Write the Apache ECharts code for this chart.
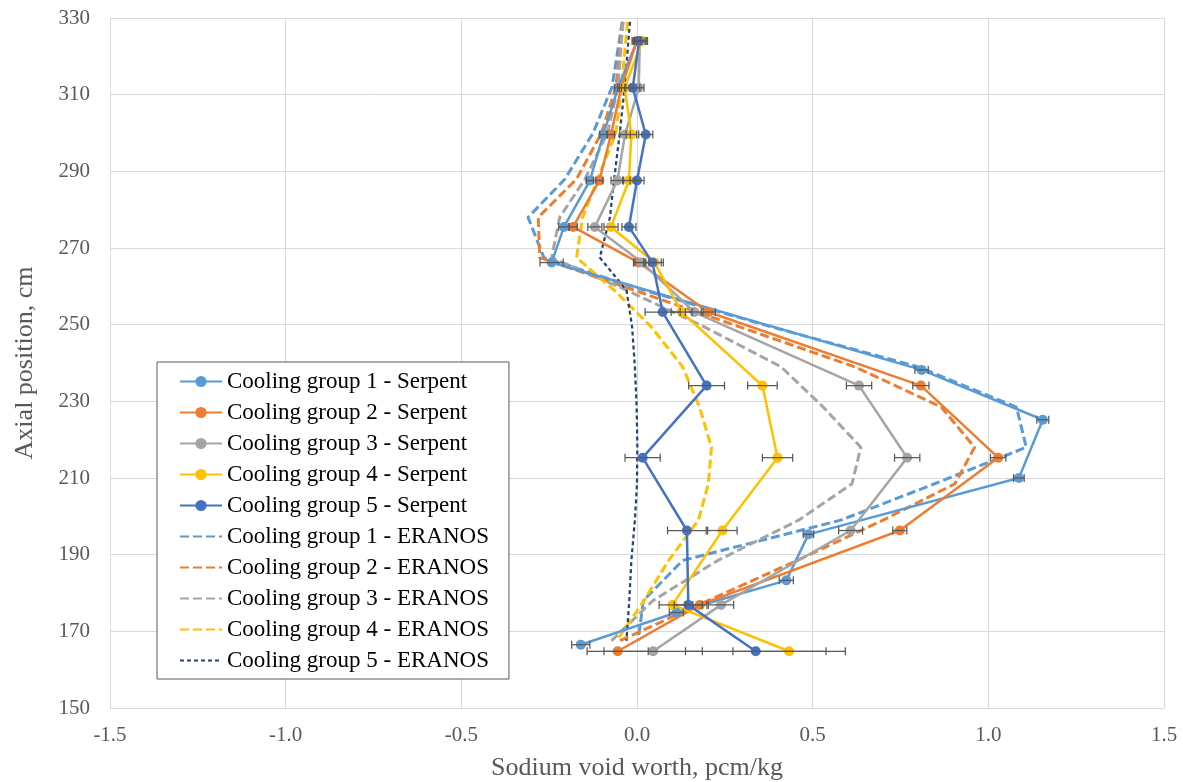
<!DOCTYPE html>
<html>
<head>
<meta charset="utf-8">
<script src="https://cdn.jsdelivr.net/npm/echarts@6/dist/echarts.min.js"></script>
<style>
html,body{margin:0;padding:0;background:#fff;}
#chart{width:1183px;height:782px;}
</style>
</head>
<body>
<div id="chart"></div>
<script>
// ---- Data ----
const seriesNames = [
  'Cooling group 1 - Serpent','Cooling group 2 - Serpent','Cooling group 3 - Serpent',
  'Cooling group 4 - Serpent','Cooling group 5 - Serpent',
  'Cooling group 1 - ERANOS','Cooling group 2 - ERANOS','Cooling group 3 - ERANOS',
  'Cooling group 4 - ERANOS','Cooling group 5 - ERANOS'
];
const xTicks = [-1.5, -1.0, -0.5, 0.0, 0.5, 1.0, 1.5];
const yTicks = [150, 170, 190, 210, 230, 250, 270, 290, 310, 330];

// Serpent, cooling group 1 (own axial positions)
const s1Y   = [324, 311.8, 299.6, 287.6, 275.5, 266.2, 238.2, 225.2, 210.0, 195.3, 183.3, 174.9, 166.5];
const s1X   = [0.0, -0.054, -0.096, -0.134, -0.208, -0.243, 0.81, 1.155, 1.087, 0.488, 0.425, 0.112, -0.16];
const s1Err = [0.01, 0.01, 0.01, 0.01, 0.015, 0.033, 0.019, 0.017, 0.015, 0.015, 0.02, 0.02, 0.026];

// Serpent, cooling groups 2-5 (shared axial positions)
const sY    = [324, 311.8, 299.6, 287.6, 275.5, 266.2, 253.3, 234.1, 215.3, 196.3, 176.9, 164.8];
const s2X   = [0.0, -0.045, -0.074, -0.107, -0.182, 0.005, 0.203, 0.808, 1.028, 0.748, 0.179, -0.055];
const s2Err = [0.01, 0.01, 0.01, 0.01, 0.012, 0.015, 0.02, 0.023, 0.022, 0.02, 0.02, 0.087];
const s3X   = [0.008, 0.005, -0.034, -0.056, -0.12, 0.014, 0.163, 0.632, 0.769, 0.608, 0.239, 0.046];
const s3Err = [0.015, 0.015, 0.015, 0.018, 0.02, 0.02, 0.025, 0.036, 0.036, 0.034, 0.036, 0.14];
const s4X   = [0.015, -0.035, -0.016, -0.023, -0.074, 0.05, 0.127, 0.357, 0.400, 0.243, 0.101, 0.433];
const s4Err = [0.015, 0.015, 0.015, 0.018, 0.02, 0.025, 0.03, 0.042, 0.043, 0.042, 0.038, 0.16];
const s5X   = [0.006, -0.012, 0.025, 0.0, -0.023, 0.044, 0.073, 0.198, 0.016, 0.142, 0.146, 0.338];
const s5Err = [0.02, 0.02, 0.02, 0.02, 0.02, 0.025, 0.05, 0.051, 0.05, 0.055, 0.04, 0.20];

// ERANOS (shared axial positions)
const eY  = [329, 312, 300, 288, 278, 267.5, 259, 249.5, 239, 228.5, 218, 208.5, 199, 188.5, 178, 167.5];
const e1X = [-0.042, -0.071, -0.125, -0.205, -0.31, -0.265, 0.02, 0.38, 0.80, 1.08, 1.108, 0.847, 0.58, 0.13, 0.018, 0.003];
const e2X = [-0.04, -0.06, -0.101, -0.172, -0.281, -0.277, -0.008, 0.29, 0.62, 0.866, 0.961, 0.905, 0.70, 0.456, 0.202, -0.05];
const e3X = [-0.04, -0.054, -0.084, -0.148, -0.22, -0.243, -0.03, 0.19, 0.41, 0.53, 0.637, 0.612, 0.46, 0.23, 0.045, -0.073];
const e4X = [-0.027, -0.044, -0.06, -0.112, -0.155, -0.172, -0.065, 0.04, 0.13, 0.178, 0.212, 0.203, 0.175, 0.09, 0.02, -0.058];
const e5X = [-0.02, -0.035, -0.049, -0.065, -0.077, -0.106, -0.03, -0.014, -0.006, -0.001, 0.001, 0.0, -0.006, -0.016, -0.022, -0.03];

// ---- Styling ----
const colors = ['#5B9BD5', '#ED7D31', '#A5A5A5', '#FFC000', '#4472C4'];
const eranosColors = ['#5B9BD5', '#ED7D31', '#A5A5A5', '#FFC000', '#264478'];
const FONT = "'Liberation Serif', 'Times New Roman', serif";

function pairs(xs, ys) { return xs.map((x, i) => [x, ys[i]]); }
function triples(xs, ys, es) { return xs.map((x, i) => [x, ys[i], es[i]]); }

const serpent = [
  { x: s1X, y: s1Y, e: s1Err },
  { x: s2X, y: sY, e: s2Err },
  { x: s3X, y: sY, e: s3Err },
  { x: s4X, y: sY, e: s4Err },
  { x: s5X, y: sY, e: s5Err }
];
const eranos = [e1X, e2X, e3X, e4X, e5X];

function errorRender(params, api) {
  const x = api.value(0), y = api.value(1), e = api.value(2);
  const lo = api.coord([x - e, y]);
  const hi = api.coord([x + e, y]);
  const h = 4;
  const st = { stroke: '#595959', lineWidth: 1.25, fill: null };
  return {
    type: 'group',
    children: [
      { type: 'line', shape: { x1: lo[0], y1: lo[1], x2: hi[0], y2: hi[1] }, style: st },
      { type: 'line', shape: { x1: lo[0], y1: lo[1] - h, x2: lo[0], y2: lo[1] + h }, style: st },
      { type: 'line', shape: { x1: hi[0], y1: hi[1] - h, x2: hi[0], y2: hi[1] + h }, style: st }
    ]
  };
}

const series = [];
serpent.forEach((s, i) => {
  series.push({
    name: seriesNames[i],
    type: 'line',
    data: pairs(s.x, s.y),
    symbol: 'circle',
    symbolSize: 10,
    showSymbol: true,
    lineStyle: { color: colors[i], width: 2.5 },
    itemStyle: { color: colors[i] },
    emphasis: { disabled: true },
    z: 3
  });
});
serpent.forEach((s, i) => {
  series.push({
    name: 'err' + (i + 1),
    type: 'custom',
    renderItem: errorRender,
    data: triples(s.x, s.y, s.e),
    encode: { x: 0, y: 1 },
    z: 4,
    silent: true
  });
});
eranos.forEach((xs, i) => {
  series.push({
    name: seriesNames[5 + i],
    type: 'line',
    data: pairs(xs, eY),
    symbol: 'none',
    showSymbol: false,
    lineStyle: i === 4
      ? { color: eranosColors[i], width: 2.25, type: [4, 3] }
      : { color: eranosColors[i], width: 3, type: [9, 4] },
    itemStyle: { color: eranosColors[i] },
    emphasis: { disabled: true },
    z: 2
  });
});

const legendData = seriesNames.map((n, i) =>
  i < 5 ? { name: n } : { name: n, itemStyle: { opacity: 0 } }
);

const chart = echarts.init(document.getElementById('chart'), null, { renderer: 'canvas' });
chart.setOption({
  animation: false,
  backgroundColor: '#fff',
  grid: { left: 110, right: 19, top: 18, bottom: 74, containLabel: false, outerBoundsMode: 'none' },
  xAxis: {
    type: 'value',
    min: xTicks[0], max: xTicks[xTicks.length - 1], interval: 0.5,
    name: 'Sodium void worth, pcm/kg',
    nameLocation: 'middle', nameGap: 47,
    nameTextStyle: { fontFamily: FONT, fontSize: 26, color: '#595959' },
    axisLine: { show: true, lineStyle: { color: '#D9D9D9', width: 1 } },
    axisTick: { show: false },
    splitLine: { show: true, lineStyle: { color: '#D9D9D9', width: 1 } },
    axisLabel: {
      fontFamily: FONT, fontSize: 21, color: '#595959', margin: 17,
      formatter: v => v.toFixed(1)
    }
  },
  yAxis: {
    type: 'value',
    min: yTicks[0], max: yTicks[yTicks.length - 1], interval: 20,
    name: 'Axial position, cm',
    nameLocation: 'middle', nameGap: 72, nameRotate: 90,
    nameTextStyle: { fontFamily: FONT, fontSize: 26, color: '#595959' },
    axisLine: { show: true, lineStyle: { color: '#D9D9D9', width: 1 } },
    axisTick: { show: false },
    splitLine: { show: true, lineStyle: { color: '#D9D9D9', width: 1 } },
    axisLabel: { fontFamily: FONT, fontSize: 21, color: '#595959', margin: 20 }
  },
  legend: {
    data: legendData,
    orient: 'vertical',
    left: 157, top: 362,
    backgroundColor: '#fff',
    borderColor: '#595959', borderWidth: 1,
    padding: [8, 20, 7, 22],
    itemGap: 8,
    itemWidth: 42, itemHeight: 14,
    textStyle: { fontFamily: FONT, fontSize: 23, color: '#000' },
    selectedMode: false
  },
  series: series
});
</script>
</body>
</html>
